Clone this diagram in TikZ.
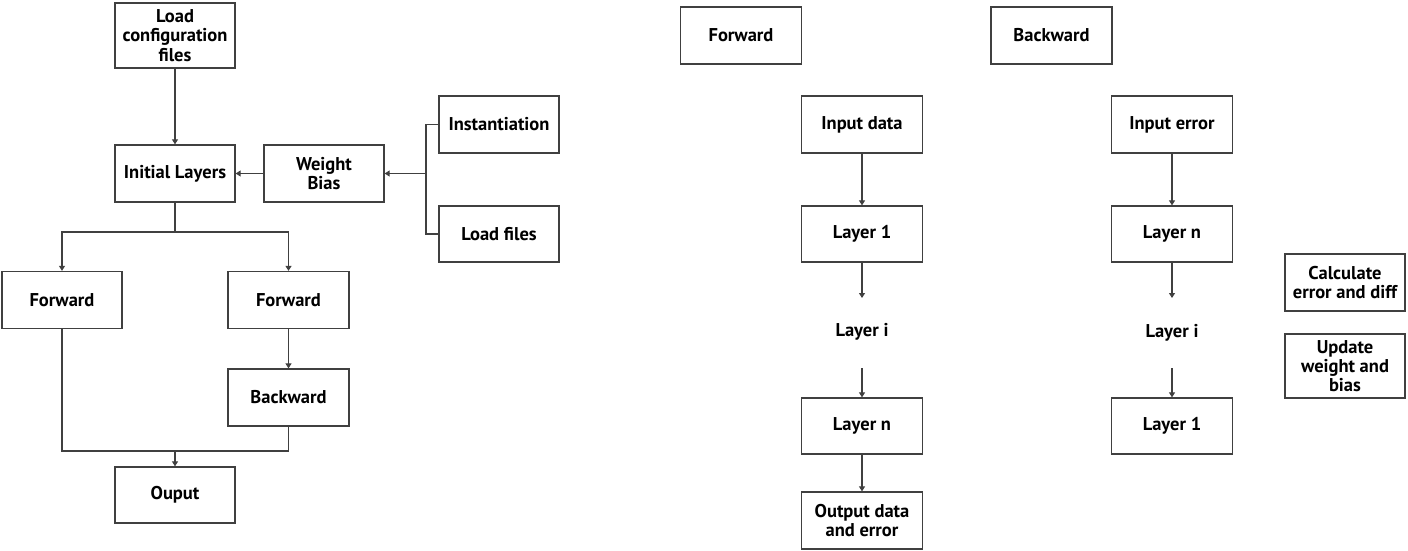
\documentclass[tikz,border=0pt]{standalone}
\usepackage{fontspec}
\setmainfont{PT Sans}
\usetikzlibrary{arrows.meta}
\definecolor{ln}{HTML}{404040}
\begin{document}
\begin{tikzpicture}[x=1pt,y=-1pt,
  box/.style={draw=ln,line width=1.3pt,rectangle,inner sep=1pt,align=center,
    font=\fontsize{18.5}{19.2}\selectfont\bfseries,minimum width=120pt,minimum height=57pt},
  lbl/.style={inner sep=0pt,align=center,font=\fontsize{18.5}{19.2}\selectfont\bfseries},
  conn/.style={draw=ln,line width=1.1pt},
  arr/.style={conn,-{Triangle[length=5pt,width=6pt]}}]
\useasboundingbox (0,0) rectangle (1408,550);
% left diagram
\node[box,minimum height=65pt] (load) at (175,35.5) {Load\\configuration\\files};
\node[box] (init) at (175,173.5) {Initial Layers};
\node[box] (wb) at (324,173.5) {Weight\\Bias};
\node[box] (inst) at (499,124.5) {Instantiation};
\node[box,minimum height=56pt] (lf) at (499,234) {Load files};
\node[box] (fl) at (62,300) {Forward};
\node[box,minimum width=121pt] (fr) at (288.5,300) {Forward};
\node[box,minimum width=121pt] (bw) at (288.5,397.5) {Backward};
\node[box,minimum height=56pt] (out) at (175,495) {Ouput};
\coordinate (br) at (426,173.5);
\coordinate (split) at (175,232);
\coordinate (merge) at (175,451);
\draw[arr] (load) -- (init);
\draw[arr] (wb) -- (init);
\draw[conn] (inst.west) -| (br) |- (lf.west);
\draw[arr] (br) -- (wb);
\draw[conn] (init) -- (split);
\draw[arr] (split) -| (fl.north);
\draw[arr] (split) -| (fr.north);
\draw[arr] (fr) -- (bw);
\draw[conn] (fl.south) |- (merge) -| (bw.south);
\draw[arr] (merge) -- (out);
% right diagram
\node[box,minimum width=121pt] (tf) at (741,35.5) {Forward};
\node[box,minimum width=121pt] (tb) at (1051.5,35.5) {Backward};
\node[box,minimum width=121pt] (ind) at (862,124.5) {Input data};
\node[box,minimum width=121pt,minimum height=56pt] (l1) at (862,234) {Layer 1};
\node[lbl] (li) at (862,332) {Layer i};
\node[box,minimum width=121pt,minimum height=56pt] (ln) at (862,426) {Layer n};
\node[box,minimum width=121pt] (od) at (862,520.5) {Output data\\and error};
\coordinate (fa) at (862,298);
\coordinate (fb) at (862,368);
\draw[arr] (ind) -- (l1);
\draw[arr] (l1) -- (fa);
\draw[arr] (fb) -- (ln);
\draw[arr] (ln) -- (od);
\node[box,minimum width=121pt] (ine) at (1172,124.5) {Input error};
\node[box,minimum width=121pt,minimum height=56pt] (lnb) at (1172,234) {Layer n};
\node[lbl] (lib) at (1172,333) {Layer i};
\node[box,minimum width=121pt,minimum height=56pt] (l1b) at (1172,426) {Layer 1};
\coordinate (ba) at (1172,298);
\coordinate (bb) at (1172,368);
\draw[arr] (ine) -- (lnb);
\draw[arr] (lnb) -- (ba);
\draw[arr] (bb) -- (l1b);
\node[box] (calc) at (1345,282.5) {Calculate\\error and diff};
\node[box,minimum height=64pt] (upd) at (1345,366) {Update\\weight and\\bias};
\end{tikzpicture}
\end{document}
